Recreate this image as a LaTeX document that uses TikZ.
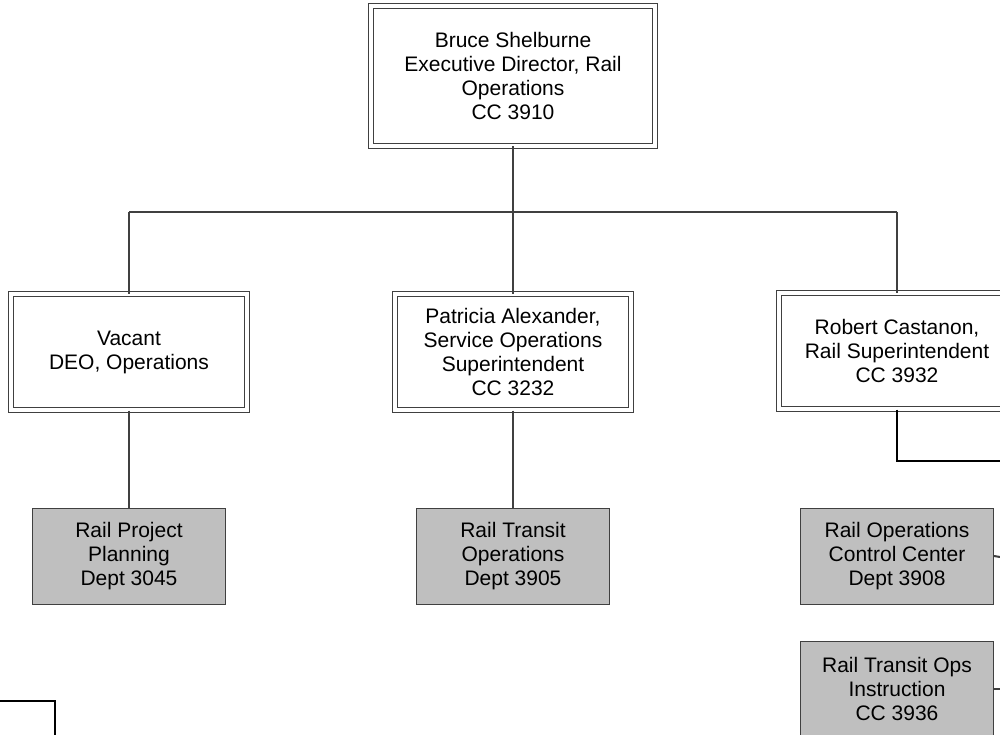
\documentclass[tikz,border=0pt]{standalone}
\usepackage{fontspec}
\setmainfont{Liberation Sans}
\begin{document}
\begin{tikzpicture}[x=1pt,y=-1pt,
  every node/.style={font=\fontsize{21}{24}\selectfont, align=center, inner sep=0pt},
  person/.style={draw=black!75, double=white, double distance=3.5pt, line width=1pt, minimum width=236pt, minimum height=116pt},
  topbox/.style={person, minimum width=284pt, minimum height=140pt},
  dept/.style={draw=black!75, fill=black!25, line width=1pt, minimum width=193pt, minimum height=96pt},
  conn/.style={draw=black!75, line width=2.5pt},
  connb/.style={draw=black, line width=2.5pt}]
\useasboundingbox (0,0) rectangle (1000,735);
\node[topbox] (top) at (513,76) {Bruce Shelburne\\Executive Director, Rail\\Operations\\CC 3910};
\node[person] (vac) at (129,352) {Vacant\\DEO, Operations};
\node[person] (pat) at (513,352) {Patricia Alexander,\\Service Operations\\Superintendent\\CC 3232};
\node[person] (rob) at (897,351) {Robert Castanon,\\Rail Superintendent\\CC 3932};
\node[dept] (rpp) at (129,556) {Rail Project\\Planning\\Dept 3045};
\node[dept] (rto) at (513,556) {Rail Transit\\Operations\\Dept 3905};
\node[dept] (rocc) at (897,556) {Rail Operations\\Control Center\\Dept 3908};
\node[dept] (rtoi) at (897,689) {Rail Transit Ops\\Instruction\\CC 3936};
\coordinate (bar) at (513,212);
\coordinate (barL) at (129,212);
\coordinate (barR) at (897,212);
\coordinate (robturn) at (897,461);
\coordinate (robout) at (1000,461);
\coordinate (roccout) at (1000,557);
\coordinate (rtoiout) at (1000,689);
\coordinate (blA) at (0,701);
\coordinate (blB) at (55,701);
\coordinate (blC) at (55,735);
\draw[conn] (top.south) -- (bar);
\draw[conn] (barL) -- (barR);
\draw[conn] (barL) -- (vac.north);
\draw[conn] (bar) -- (pat.north);
\draw[conn] (barR) -- (rob.north);
\draw[conn] (vac.south) -- (rpp.north);
\draw[conn] (pat.south) -- (rto.north);
\draw[connb] (rob.south) -- (robturn) -- (robout);
\draw[conn, line width=2pt] (rocc.east) -- (roccout);
\draw[conn, line width=2pt] (rtoi.east) -- (rtoiout);
\draw[connb] (blA) -- (blB) -- (blC);
\end{tikzpicture}
\end{document}
